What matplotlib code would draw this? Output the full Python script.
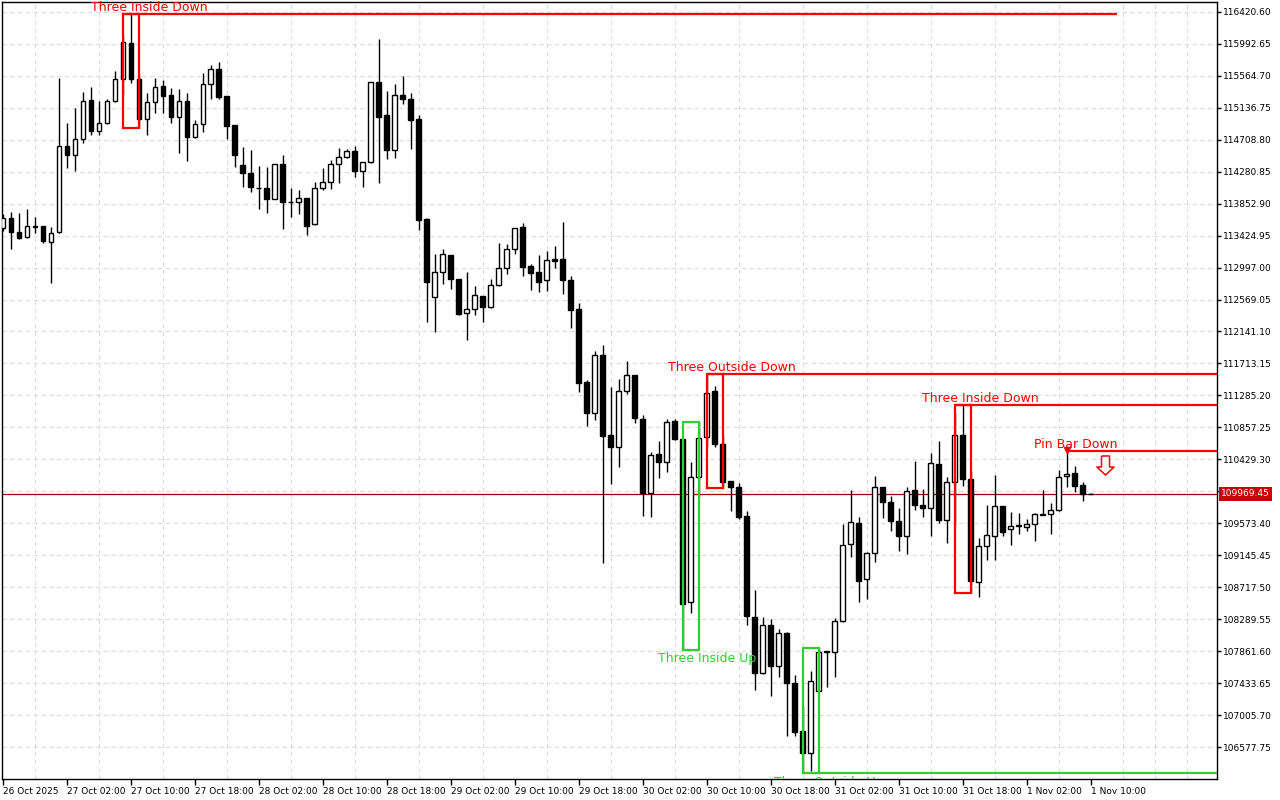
import numpy as np
import matplotlib.pyplot as plt
from matplotlib.path import Path
from matplotlib.transforms import blended_transform_factory

# BTC H1 candles
opens = [113526, 113656, 113469, 113402, 113548, 113548, 113335, 113469, 114619, 114499,
         114713, 115235, 114828, 114927, 115222, 115516, 115998, 115516, 114990, 115208,
         115422, 115302, 115015, 115222, 114748, 114914, 115449, 115650, 115288, 114900,
         114369, 114261, 114062, 114067, 113919, 114379, 113878, 113870, 113924, 113575,
         114067, 114138, 114379, 114472, 114553, 114292, 114405, 115476, 115034, 114574,
         115302, 115252, 114982, 113642, 112607, 112933, 113161, 112845, 112385, 112439,
         112612, 112465, 112759, 112987, 113241, 113535, 113013, 112933, 112827, 113107,
         113107, 112831, 112439, 111465, 111046, 111823, 110752, 110599, 111349, 111555,
         110971, 109984, 110496, 110397, 110939, 110702, 108517, 110189, 110725, 111345,
         110631, 110136, 110055, 109672, 108316, 107575, 108209, 107669, 108102, 107437,
         106795, 106497, 107334, 107862, 107856, 108267, 109293, 109574, 108825, 109182,
         110054, 109860, 109601, 109400, 110020, 109815, 109775, 110363, 109614, 110124,
         110752, 110163, 108793, 109271, 109400, 109802, 109498, 109545, 109530, 109562,
         109690, 109696, 109748, 110203, 110243, 110082, 109962]
highs = [113714, 113740, 113727, 113780, 113673, 113556, 113543, 115533, 114927, 115128,
         115342, 115409, 115226, 115252, 115627, 116109, 116390, 115587, 115329, 115529,
         115507, 115400, 115382, 115329, 114971, 115596, 115707, 115748, 115292, 114902,
         114614, 114570, 114356, 114343, 114385, 114503, 114068, 114041, 113926, 114148,
         114325, 114432, 114593, 114579, 114623, 114410, 115480, 116051, 115359, 115453,
         115556, 115329, 115034, 113656, 113178, 113245, 113165, 112848, 112937, 112750,
         112615, 112844, 113325, 113312, 113526, 113593, 113040, 113165, 113218, 113285,
         113606, 112881, 112518, 111492, 111876, 111960, 111398, 111501, 111742, 111563,
         111024, 110527, 110675, 110966, 110970, 110705, 110390, 110934, 111572, 111412,
         110752, 110138, 110113, 109739, 108682, 108316, 108294, 108156, 108120, 107540,
         107127, 107598, 107902, 107864, 108311, 109565, 110020, 109655, 109185, 110207,
         110058, 109940, 109775, 110064, 110408, 110033, 110511, 110679, 110197, 111046,
         111161, 110279, 109374, 109815, 110224, 109805, 109722, 109709, 109629, 109717,
         110020, 109850, 110287, 110560, 110341, 110123, 109975]
lows = [113486, 113245, 113379, 113395, 113459, 113322, 112790, 113460, 114324, 114292,
        114660, 114775, 114775, 114915, 115210, 115306, 115463, 114868, 114775, 115070,
        115070, 114935, 114534, 114427, 114726, 114815, 115256, 115248, 114713, 114343,
        114076, 114009, 113784, 113723, 113912, 113517, 113669, 113709, 113429, 113570,
        114035, 114052, 114132, 114459, 114212, 114076, 114400, 114132, 114455, 114468,
        115181, 114587, 113503, 112273, 112138, 112775, 112715, 112362, 112032, 112358,
        112273, 112451, 112755, 112916, 113182, 112889, 112702, 112675, 112688, 112995,
        112648, 112187, 111336, 110881, 110953, 109046, 110099, 110331, 111309, 110913,
        109676, 109663, 110185, 110264, 110689, 107879, 108370, 109930, 110591, 110599,
        110050, 109743, 109636, 108213, 107344, 107557, 107265, 107513, 106732, 106732,
        106229, 106264, 107330, 107388, 107521, 108255, 109119, 108517, 108561, 109060,
        109641, 109476, 109206, 109161, 109752, 109663, 109408, 109574, 109314, 109541,
        110072, 108638, 108592, 109078, 109078, 109408, 109284, 109431, 109472, 109337,
        109686, 109427, 109744, 110064, 109989, 109876, 109960]
closes = [113660, 113469, 113396, 113548, 113545, 113349, 113455, 114623, 114499, 114713,
          115222, 114828, 114927, 115222, 115516, 116011, 115524, 114990, 115208, 115417,
          115297, 115015, 115222, 114748, 114914, 115449, 115650, 115279, 114895, 114499,
          114257, 114076, 114060, 113919, 114379, 113878, 113875, 113924, 113556, 114067,
          114138, 114379, 114472, 114553, 114292, 114405, 115476, 115015, 114574, 115302,
          115248, 114977, 113637, 112801, 112933, 113174, 112841, 112375, 112439, 112626,
          112465, 112759, 112987, 113241, 113522, 113008, 112928, 112807, 113094, 113089,
          112827, 112433, 111456, 111055, 111823, 110747, 110599, 111341, 111555, 110980,
          109984, 110491, 110397, 110930, 110698, 108499, 110197, 110719, 111314, 110639,
          110131, 110055, 109663, 108338, 107575, 108209, 107669, 108102, 107441, 106786,
          106497, 107460, 107848, 107848, 108263, 109284, 109588, 108807, 109182, 110054,
          109855, 109601, 109400, 110011, 109815, 109775, 110377, 109614, 110124, 110752,
          110163, 108807, 109271, 109414, 109802, 109462, 109535, 109540, 109562, 109696,
          109696, 109748, 110189, 110238, 110077, 109962, 109969.45]

time_labels = ['26 Oct 2025', '27 Oct 02:00', '27 Oct 10:00', '27 Oct 18:00', '28 Oct 02:00',
               '28 Oct 10:00', '28 Oct 18:00', '29 Oct 02:00', '29 Oct 10:00', '29 Oct 18:00',
               '30 Oct 02:00', '30 Oct 10:00', '30 Oct 18:00', '31 Oct 02:00', '31 Oct 10:00',
               '31 Oct 18:00', '1 Nov 02:00', '1 Nov 10:00']

# candle patterns: name, first bar, last bar, direction
pattern_names = ['Three Inside Down', 'Three Inside Up', 'Three Outside Down',
                 'Three Outside Up', 'Three Inside Down']
pattern_first = [15, 85, 88, 100, 119]
pattern_last = [17, 87, 90, 102, 121]
pattern_dir = ['down', 'up', 'down', 'up', 'down']
pin_bar = 133
pin_level = 110546
last_price = 109969.45

# y scale of the terminal
y_base = 106577.75
y_step = 427.95

RED = '#ff0000'
GREEN = '#32cd32'

fig = plt.figure(figsize=(12.8, 8), dpi=100)
ax = fig.add_axes([2 / 1280, 21 / 800, 1215 / 1280, 777 / 800])
ax.set_xlim(-0.09, 151.8)
ax.set_ylim(106152.6, 116550.4)

x = np.arange(len(opens))
o = np.array(opens)
c = np.array(closes)
up = c >= o
bottom = np.minimum(o, c)
height = np.abs(c - o)

ax.axhline(last_price, color='#a00000', lw=0.9, zorder=2)

ax.vlines(x, lows, highs, color='black', lw=1, zorder=3)
ax.bar(x[up], height[up], bottom=bottom[up], width=0.55, facecolor='white',
       edgecolor='black', linewidth=1, zorder=4)
ax.bar(x[~up], height[~up], bottom=bottom[~up], width=0.55, facecolor='black',
       edgecolor='black', linewidth=1, zorder=4)

# pattern boxes, levels and labels
label_pos = [18.3, 88.0, 91.2, 103.2, 122.2]
line_end = [139.3, None, 151.8, 151.8, 151.8]
for name, a, b, d, lx, le in zip(pattern_names, pattern_first, pattern_last,
                                 pattern_dir, label_pos, line_end):
    hi = max(highs[a:b + 1])
    lo = min(lows[a:b + 1])
    col = RED if d == 'down' else GREEN
    ax.plot([a, a, b, b, a], [lo, hi, hi, lo, lo], color=col, lw=1.6, zorder=5,
            solid_joinstyle='miter')
    if d == 'down':
        if le is not None:
            ax.hlines(hi, a, le, color=col, lw=1.6, zorder=5)
        ax.annotate(name, (lx, hi), xytext=(0, 2.2), textcoords='offset points',
                    ha='center', va='baseline', color=col, fontsize=9, zorder=6)
    else:
        if le is not None:
            ax.hlines(lo, a, le, color=col, lw=1.6, zorder=5)
        t = ax.annotate(name, (lx, lo), xytext=(0, -1.8), textcoords='offset points',
                        ha='center', va='top', color=col, fontsize=9, zorder=6)
        t.set_clip_on(True)
        t.set_clip_path(ax.patch)

# pin bar
ax.hlines(pin_level, pin_bar, 151.8, color=RED, lw=1.6, zorder=5)
ax.plot(pin_bar, highs[pin_bar], marker='v', ms=4, color=RED, zorder=6)
ax.annotate('Pin Bar Down', (pin_bar + 1.2, pin_level), xytext=(0, 2.2),
            textcoords='offset points', ha='center', va='baseline', color=RED,
            fontsize=9, zorder=6)
arrow = Path([(-0.21, 0.5), (0.21, 0.5), (0.21, -0.08), (0.45, -0.08), (0, -0.5),
              (-0.45, -0.08), (-0.21, -0.08), (-0.21, 0.5)])
ax.plot(pin_bar + 4.8, pin_level - 185, marker=arrow, ms=13.7, mfc='white',
        mec=RED, mew=1.1, zorder=6)

# axes, ticks, grid
yt = y_base + y_step * np.arange(24)
ax.yaxis.tick_right()
ax.set_yticks(yt)
ax.set_yticklabels(['%.2f' % v for v in yt])
ax.set_xticks(np.arange(0, 8 * len(time_labels), 8))
ax.set_xticklabels(time_labels)
for lab in ax.get_xticklabels():
    lab.set_ha('left')
ax.set_xticks(np.arange(0, 152, 4), minor=True)
ax.tick_params(axis='y', direction='out', length=3, width=1, pad=1.5, labelsize=6.5)
ax.tick_params(axis='x', which='major', direction='out', length=4, width=1, pad=1.5,
               labelsize=6.5)
ax.tick_params(axis='x', which='minor', length=0)
ax.grid(True, axis='y', color='#dcdcdc', ls=(0, (4, 3)), lw=0.8)
ax.grid(True, axis='x', which='minor', color='#dcdcdc', ls=(0, (4, 3)), lw=0.8)
ax.set_axisbelow(True)
for s in ax.spines.values():
    s.set_color('black')
    s.set_linewidth(1)

tr = blended_transform_factory(ax.transAxes, ax.transData)
ax.text(1.0 + 4 / 1215, last_price, '%.2f' % last_price, transform=tr, ha='left',
        va='center', color='white', fontsize=6.5, zorder=10,
        bbox=dict(boxstyle='square,pad=0.25', fc='#c80000', ec='none'))

fig.savefig('out.png', dpi=100)
